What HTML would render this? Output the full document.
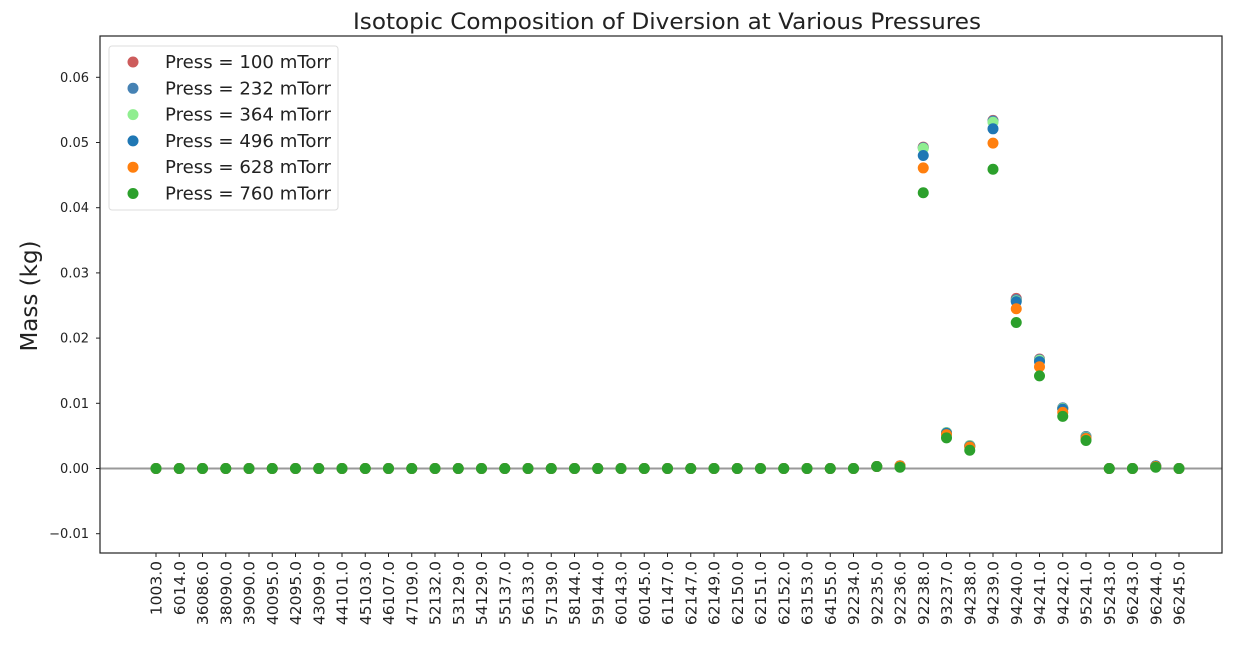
<!DOCTYPE html>
<html><head><meta charset="utf-8"><style>
body{margin:0;background:#fff;font-family:"Liberation Sans","DejaVu Sans",sans-serif}
</style></head><body>
<svg id="chart" width="1257" height="650" xmlns="http://www.w3.org/2000/svg" font-family="'DejaVu Sans','Liberation Sans',sans-serif">
<text x="667" y="29" text-anchor="middle" font-size="22" textLength="628" lengthAdjust="spacingAndGlyphs" fill="#222">Isotopic Composition of Diversion at Various Pressures</text>
<text transform="translate(37,296) rotate(-90)" text-anchor="middle" font-size="23" fill="#222">Mass (kg)</text>
<g id="grid"></g><g id="marks"></g><g id="axes"></g><g id="legend"></g>
</svg>
<script>
const categories=["1003.0","6014.0","36086.0","38090.0","39090.0","40095.0","42095.0","43099.0","44101.0","45103.0","46107.0","47109.0","52132.0","53129.0","54129.0","55137.0","56133.0","57139.0","58144.0","59144.0","60143.0","60145.0","61147.0","62147.0","62149.0","62150.0","62151.0","62152.0","63153.0","64155.0","92234.0","92235.0","92236.0","92238.0","93237.0","94238.0","94239.0","94240.0","94241.0","94242.0","95241.0","95243.0","96243.0","96244.0","96245.0"];
const seriesNames=["Press = 100 mTorr","Press = 232 mTorr","Press = 364 mTorr","Press = 496 mTorr","Press = 628 mTorr","Press = 760 mTorr"];
const seriesColors=["#cd5c5c","#4682b4","#90ee90","#1f77b4","#ff7f0e","#2ca02c"];
const zeros30=new Array(31).fill(0);
const tail100=[0.0003,0.0004,0.0493,0.0055,0.0035,0.0534,0.0261,0.0168,0.0093,0.0049,0,0,0.0004,0];
const tail232=[0.0003,0.0004,0.0492,0.0055,0.0035,0.0533,0.0259,0.0167,0.0093,0.0049,0,0,0.0004,0];
const tail364=[0.0003,0.0004,0.0491,0.0055,0.0035,0.0531,0.0257,0.0166,0.0092,0.0048,0,0,0.0004,0];
const tail496=[0.0003,0.0004,0.0480,0.0054,0.0034,0.0521,0.0256,0.0164,0.0091,0.0047,0,0,0.0004,0];
const tail628=[0.0003,0.0004,0.0461,0.0052,0.0033,0.0499,0.0245,0.0156,0.0086,0.0046,0,0,0.0003,0];
const tail760=[0.0003,0.0002,0.0423,0.0047,0.0028,0.0459,0.0224,0.0142,0.0080,0.0043,0,0,0.0002,0];
const seriesValues=[tail100,tail232,tail364,tail496,tail628,tail760].map(t=>zeros30.concat(t));
const yTicks=[-0.01,0,0.01,0.02,0.03,0.04,0.05,0.06];
const yTickLabels=["\u22120.01","0.00","0.01","0.02","0.03","0.04","0.05","0.06"];

const L=100,R=1222,T=36,B=553;
const y0=468.5,ys=6520;
const yS=v=>y0-v*ys;
const xS=i=>156+i*(1179-156)/(categories.length-1);
const NS="http://www.w3.org/2000/svg";
function mk(tag,attrs,parent){const e=document.createElementNS(NS,tag);for(const k in attrs)e.setAttribute(k,attrs[k]);parent.appendChild(e);return e;}
const grid=document.getElementById('grid'),marks=document.getElementById('marks'),axes=document.getElementById('axes'),leg=document.getElementById('legend');

const zl=mk('line',{x1:L,x2:R,y1:yS(0),y2:yS(0),stroke:'#999','stroke-width':2},grid);



seriesValues.forEach((vals,s)=>{
  vals.forEach((v,i)=>{
    const c=mk('circle',{cx:xS(i),cy:yS(v),r:5.5,fill:seriesColors[s]},marks);
    
    
  });
});

const frame=mk('rect',{x:L,y:T,width:R-L,height:B-T,fill:'none',stroke:'#222','stroke-width':1.2},axes);



yTicks.forEach((v,k)=>{
  const y=yS(v);
  mk('line',{x1:L-4,x2:L,y1:y,y2:y,stroke:'#222'},axes);
  const t=mk('text',{x:L-11,y:y+4.5,'text-anchor':'end','font-size':13,fill:'#222'},axes);
  t.textContent=yTickLabels[k];
  
  
});
categories.forEach((c,i)=>{
  const x=xS(i);
  mk('line',{x1:x,x2:x,y1:B,y2:B+4,stroke:'#222'},axes);
  const t=mk('text',{transform:`translate(${x+5.5},${B+8}) rotate(-90)`,'text-anchor':'end','font-size':15.5,fill:'#222'},axes);
  t.textContent=c;
  
  
});

const box=mk('rect',{x:109,y:46,width:229,height:164,rx:3,fill:'#fff',stroke:'#ddd'},leg);


seriesNames.forEach((n,s)=>{
  const y=62+s*26.3;
  const c=mk('circle',{cx:133,cy:y,r:5.5,fill:seriesColors[s]},leg);
  
  
  const t=mk('text',{x:165,y:y+6,'font-size':17.5,textLength:166,lengthAdjust:'spacingAndGlyphs',fill:'#222'},leg);
  t.textContent=n;
  
  
});
</script>
</body></html>
